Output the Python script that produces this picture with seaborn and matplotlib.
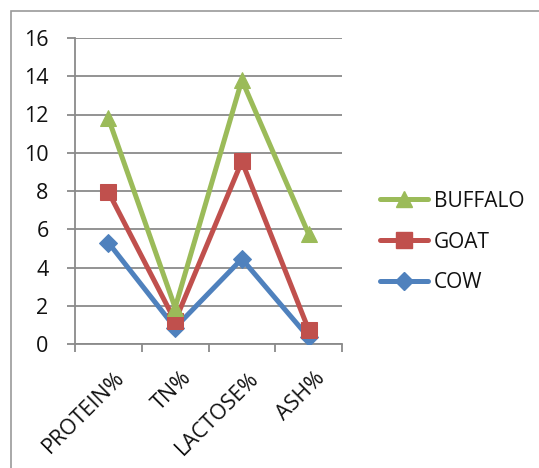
import matplotlib
matplotlib.use("Agg")
import matplotlib.pyplot as plt
from matplotlib.patches import Rectangle
from matplotlib.lines import Line2D
from matplotlib.transforms import ScaledTranslation
import seaborn as sns
import pandas as pd

categories = ["PROTEIN%", "TN%", "LACTOSE%", "ASH%"]
cow = [5.3, 0.85, 4.45, 0.35]
goat = [7.95, 1.2, 9.55, 0.75]
buffalo = [11.8, 1.9, 13.8, 5.75]

series_names = ["COW", "GOAT", "BUFFALO"]
series_values = [cow, goat, buffalo]
colors = {"COW": "#4F81BD", "GOAT": "#C0504D", "BUFFALO": "#9BBB59"}
markers = {"COW": "D", "GOAT": "s", "BUFFALO": "^"}
msizes = {"COW": 9, "GOAT": 11, "BUFFALO": 12}

rows = []
for name, vals in zip(series_names, series_values):
    for i, (c, v) in enumerate(zip(categories, vals)):
        rows.append({"category": c, "pos": i, "series": name, "value": v})
df = pd.DataFrame(rows)

sns.set_theme(style="white")
plt.rcParams["font.family"] = ["Open Sans", "DejaVu Sans"]

fig = plt.figure(figsize=(5.39, 4.68), dpi=100)
W, H = 539, 468
ax = fig.add_axes([75 / W, 1 - 344 / H, (342 - 75) / W, (344 - 38) / H])

# chart frame
fig.patches.append(Rectangle((11 / W, -0.1), 1.2, 1 - 11 / H + 0.1,
                             transform=fig.transFigure, fill=False,
                             edgecolor="#9A9A9A", linewidth=1.2, zorder=0))

for name in series_names:
    sub = df[df["series"] == name]
    sns.lineplot(data=sub, x="pos", y="value", ax=ax, color=colors[name],
                 marker=markers[name], markersize=msizes[name],
                 markeredgecolor=colors[name], linewidth=3.6,
                 legend=False, zorder=3)

ax.set_xlim(-0.5, 3.5)
ax.set_ylim(0, 16)
ax.set_yticks(range(0, 17, 2))
ax.yaxis.grid(True, color="#8A8A8A", linewidth=1.3)
ax.set_axisbelow(True)
ax.set_xticks(range(len(categories)))
ax.set_xticklabels(categories, rotation=45, ha="right", rotation_mode="anchor")
ax.set_xticks([-0.5, 0.5, 1.5, 2.5, 3.5], minor=True)
ax.tick_params(axis="x", which="major", length=0, pad=17, labelsize=15.5, colors="#111111")
ax.tick_params(axis="x", which="minor", length=6, width=1.3, color="#8A8A8A", bottom=True)
ax.tick_params(axis="y", length=6, width=1.3, color="#8A8A8A", left=True,
               labelsize=15.5, labelcolor="#111111", pad=13)
for lab in ax.get_xticklabels():
    lab.set_transform(lab.get_transform() + ScaledTranslation(6 / 100, 0, fig.dpi_scale_trans))
ax.set_xlabel("")
ax.set_ylabel("")
for s in ["top", "right"]:
    ax.spines[s].set_visible(False)
for s in ["left", "bottom"]:
    ax.spines[s].set_color("#8A8A8A")
    ax.spines[s].set_linewidth(1.3)

handles = [Line2D([0], [0], color=colors[n], marker=markers[n], markersize=msizes[n],
                  markeredgecolor=colors[n], linewidth=3.6)
           for n in reversed(series_names)]
leg = fig.legend(handles, list(reversed(series_names)), loc="center left",
                 bbox_to_anchor=(361 / W, 1 - 242 / H), frameon=False,
                 fontsize=15, handlelength=2.3, handletextpad=0.3, labelspacing=0.95)
for t in leg.get_texts():
    t.set_color("#111111")

fig.savefig("out.png", dpi=100)
